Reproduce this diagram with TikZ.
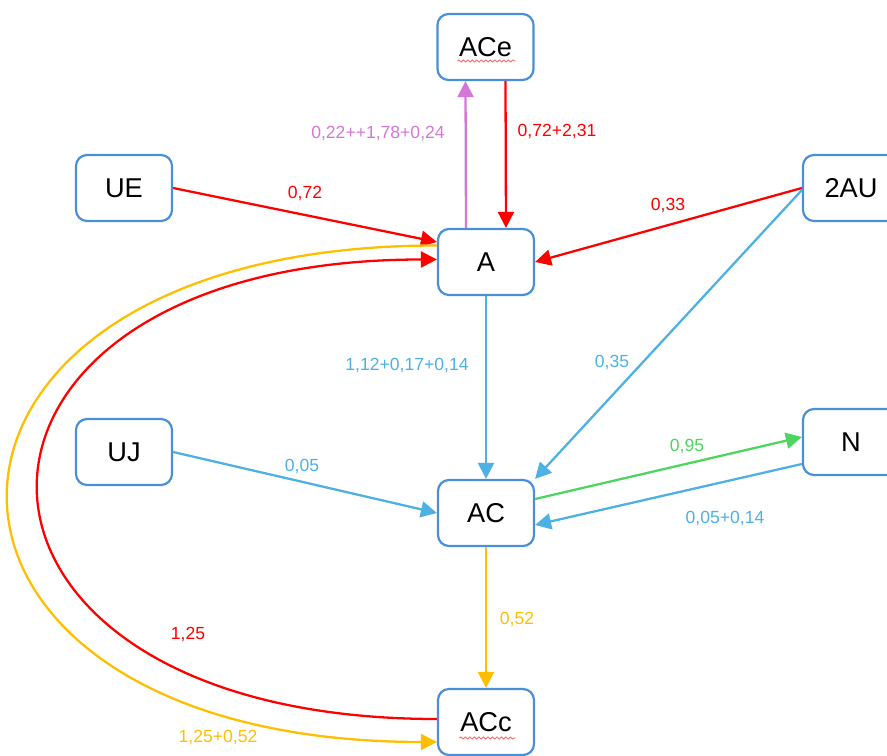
\documentclass[tikz,border=0pt]{standalone}
\usepackage{fontspec}
\setmainfont{Liberation Sans}
\usetikzlibrary{arrows.meta,decorations.pathmorphing}
\definecolor{boxBlue}{RGB}{74,144,217}
\definecolor{flowBlue}{RGB}{77,177,228}
\definecolor{flowRed}{RGB}{255,0,0}
\definecolor{flowPink}{RGB}{214,118,214}
\definecolor{flowYellow}{RGB}{255,190,0}
\definecolor{flowGreen}{RGB}{76,214,96}
\begin{document}
\begin{tikzpicture}[
    box/.style={draw=boxBlue, line width=1.25pt, rounded corners=0.22cm, fill=white,
      minimum width=1.92cm, minimum height=1.32cm, font=\fontsize{15.5}{18}\selectfont},
    flow/.style={line width=1.3pt, -{Triangle[length=0.32cm,width=0.32cm]}},
    lbl/.style={font=\fontsize{10}{12}\selectfont, inner sep=1pt},
    squiggle/.style={flowRed!60, line width=0.5pt, decorate,
      decoration={snake, amplitude=0.02cm, segment length=0.09cm}}
  ]
  \useasboundingbox (0,0) rectangle (17.74,15.12);
  % Boxes
  \node[box] (ACe) at (9.71,14.18) {ACe};
  \node[box] (UE) at (2.48,11.36) {UE};
  \node[box] (A) at (9.72,9.88) {A};
  \node[box] (2AU) at (17.02,11.36) {2AU};
  \node[box] (UJ) at (2.48,6.08) {UJ};
  \node[box] (N) at (17.02,6.28) {N};
  \node[box] (AC) at (9.72,4.86) {AC};
  \node[box] (ACc) at (9.72,0.68) {ACc};
  % Spelling marks
  \draw[squiggle] ([xshift=-0.56cm,yshift=-0.28cm]ACe.center) -- ++(1.16,0);
  \draw[squiggle] ([xshift=-0.53cm,yshift=-0.32cm]ACc.center) -- ++(1.12,0);
  % Straight flows
  \draw[flow, flowRed] (UE.east) -- ([yshift=0.4cm]A.west);
  \draw[flow, flowRed] (2AU.west) -- (A.east);
  \draw[flow, flowPink] ([xshift=-0.4cm]A.north) -- ([xshift=-0.4cm]ACe.south);
  \draw[flow, flowRed] ([xshift=0.4cm]ACe.south) -- ([xshift=0.4cm]A.north);
  \draw[flow, flowBlue] (A.south) -- (AC.north);
  \draw[flow, flowBlue] ([yshift=-0.04cm]2AU.west) -- (AC.north east);
  \draw[flow, flowBlue] (UJ.east) -- (AC.west);
  \draw[flow, flowGreen] ([yshift=0.28cm]AC.east) -- ([yshift=0.1cm]N.west);
  \draw[flow, flowBlue] ([yshift=-0.44cm]N.west) -- ([yshift=-0.24cm]AC.east);
  \draw[flow, flowYellow] (AC.south) -- (ACc.north);
  % Loops round the left side
  \draw[flow, flowRed] ([yshift=0.06cm]ACc.west)
    .. controls +(-10.62,0) and +(-10.62,0) .. ([yshift=0.05cm]A.west);
  \draw[flow, flowYellow] ([yshift=0.33cm]A.west)
    .. controls +(-11.42,0) and +(-11.42,0) .. ([yshift=-0.4cm]ACc.west);
  % Labels
  \node[lbl, text=flowRed] (lUE) at (6.10,11.26) {0,72};
  \node[lbl, text=flowRed] (l2AU) at (13.36,11.02) {0,33};
  \node[lbl, text=flowPink] (lACeUp) at (7.56,12.46) {0,22++1,78+0,24};
  \node[lbl, text=flowRed] (lACeDown) at (11.14,12.50) {0,72+2,31};
  \node[lbl, text=flowBlue] (lAAC) at (8.14,7.82) {1,12+0,17+0,14};
  \node[lbl, text=flowBlue] (l2AUAC) at (12.24,7.88) {0,35};
  \node[lbl, text=flowBlue] (lUJ) at (6.04,5.80) {0,05};
  \node[lbl, text=flowGreen] (lACN) at (13.74,6.20) {0,95};
  \node[lbl, text=flowBlue] (lNAC) at (14.50,4.76) {0,05+0,14};
  \node[lbl, text=flowYellow] (lACACc) at (10.34,2.74) {0,52};
  \node[lbl, text=flowRed] (lLoopRed) at (3.76,2.44) {1,25};
  \node[lbl, text=flowYellow] (lLoopYellow) at (4.36,0.38) {1,25+0,52};
\end{tikzpicture}
\end{document}
